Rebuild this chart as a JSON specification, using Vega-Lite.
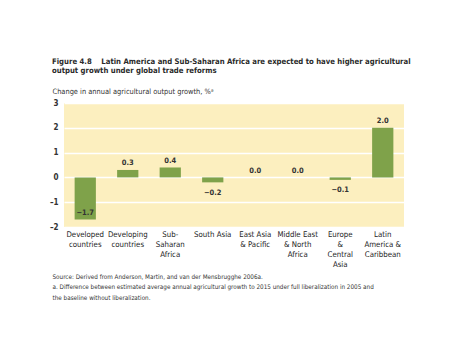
{
  "$schema": "https://vega.github.io/schema/vega-lite/v6.json",
  "autosize": "none",
  "width": 340,
  "height": 124,
  "padding": {"left": 64, "top": 103, "right": 48, "bottom": 129},
  "background": "white",
  "config": {
    "font": "DejaVu Sans Condensed, Roboto, sans-serif",
    "view": {"fill": "#fcefbf", "stroke": null}
  },
  "title": {
    "text": ["Figure 4.8\u00a0\u00a0\u00a0\u00a0Latin America and Sub-Saharan Africa are expected to have higher agricultural", "output growth under global trade reforms"],
    "anchor": "start",
    "frame": "group",
    "dx": -12,
    "fontSize": 7.7,
    "fontWeight": "bold",
    "color": "#2a2a2a",
    "lineHeight": 9.5,
    "offset": 12
  },
  "data": {
    "values": [
      {"region": "Developed|countries", "value": -1.7},
      {"region": "Developing|countries", "value": 0.3},
      {"region": "Sub-|Saharan|Africa", "value": 0.4},
      {"region": "South Asia", "value": -0.2},
      {"region": "East Asia|& Pacific", "value": 0.0},
      {"region": "Middle East|& North|Africa", "value": 0.0},
      {"region": "Europe|&|Central|Asia", "value": -0.1},
      {"region": "Latin|America &|Caribbean", "value": 2.0}
    ]
  },
  "encoding": {
    "x": {
      "field": "region",
      "type": "nominal",
      "sort": null,
      "scale": {"paddingInner": 0.5, "paddingOuter": 0.25},
      "axis": {
        "labelAngle": 0,
        "labelExpr": "split(datum.value, '|')",
        "labelFontSize": 7.8,
        "labelColor": "#222",
        "labelLineHeight": 10,
        "labelPadding": 3,
        "labelBaseline": "top",
        "labelOverlap": false,
        "domain": false,
        "ticks": false,
        "title": ["Source: Derived from Anderson, Martin, and van der Mensbrugghe 2006a.", "a. Difference between estimated average annual agricultural growth to 2015 under full liberalization in 2005 and", "the baseline without liberalization."],
        "titleFontSize": 6.3,
        "titleFontWeight": "normal",
        "titleColor": "#333",
        "titleAlign": "left",
        "titleAnchor": "start",
        "titleBaseline": "top",
        "titleLineHeight": 10.5,
        "titleX": -12,
        "titleY": 46
      }
    }
  },
  "resolve": {"scale": {"y": "shared"}, "axis": {"y": "independent"}},
  "layer": [
    {
      "mark": {"type": "bar", "color": "#7fa24a"},
      "encoding": {
        "y": {
          "field": "value",
          "type": "quantitative",
          "scale": {"domain": [-2, 3], "nice": false},
          "axis": {
            "values": [-2, -1, 0, 1, 2, 3],
            "labelExpr": "replace(datum.label, /[-−]/, '–')",
            "labelFontSize": 8,
            "labelFontWeight": "bold",
            "labelColor": "#333",
            "labelPadding": 6,
            "labelOverlap": false,
            "labelFlush": false,
            "domain": false,
            "ticks": false,
            "grid": true,
            "gridColor": "white",
            "gridWidth": 1.5,
            "gridOpacity": 1,
            "title": "Change in annual agricultural output growth, %ᵃ",
            "titleAngle": 0,
            "titleAlign": "left",
            "titleBaseline": "alphabetic",
            "titleX": -12,
            "titleY": -10,
            "titleFontSize": 7.4,
            "titleFontWeight": "normal",
            "titleColor": "#333"
          }
        }
      }
    },
    {
      "transform": [
        {"calculate": "datum.value < -1 ? datum.value + 0.25 : (datum.value < 0 ? datum.value - 0.42 : datum.value + 0.27)", "as": "labelPos"}
      ],
      "mark": {"type": "text", "fontSize": 7.5, "fontWeight": "bold", "color": "#333", "baseline": "middle"},
      "encoding": {
        "y": {"field": "labelPos", "type": "quantitative", "axis": null},
        "text": {"field": "value", "type": "quantitative", "format": ".1f"}
      }
    }
  ]
}
